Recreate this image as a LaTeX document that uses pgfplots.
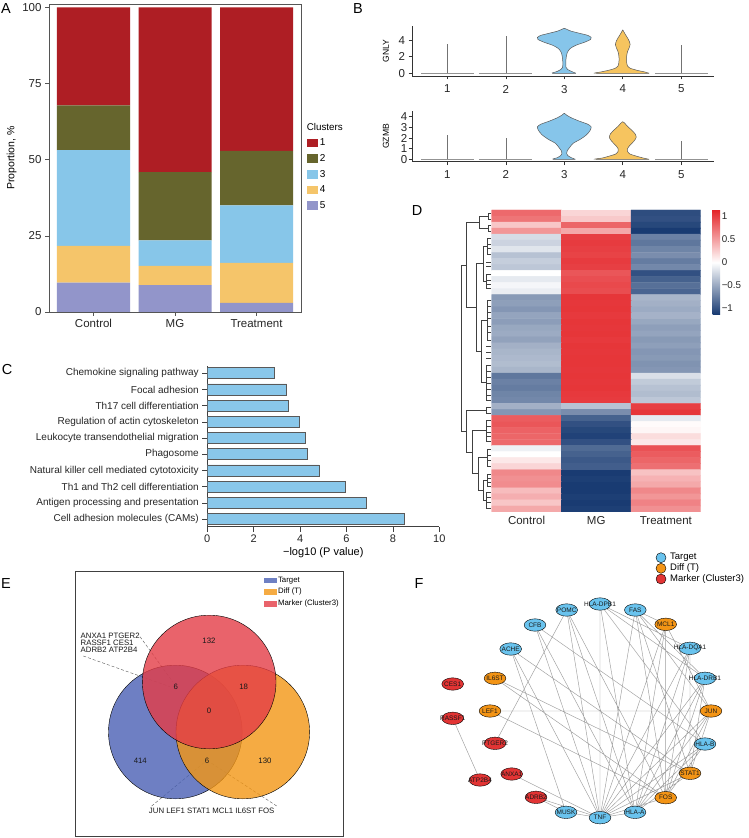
\documentclass[border=0pt]{standalone}
\usepackage{pgfplots}
\pgfplotsset{compat=1.18}
\usepackage{fontspec}
\setmainfont{Liberation Sans}
\definecolor{c1}{RGB}{174,30,36}
\definecolor{c2}{RGB}{102,101,45}
\definecolor{c3}{RGB}{135,198,233}
\definecolor{c4}{RGB}{245,197,106}
\definecolor{c5}{RGB}{146,149,202}
\definecolor{vblue}{RGB}{134,197,234}
\definecolor{vorange}{RGB}{246,196,95}
\definecolor{cbar}{RGB}{137,199,234}
\definecolor{venB}{RGB}{74,96,180}
\definecolor{venO}{RGB}{243,150,20}
\definecolor{venR}{RGB}{228,60,70}
\definecolor{nB}{RGB}{105,195,238}
\definecolor{nO}{RGB}{243,148,21}
\definecolor{nR}{RGB}{226,52,52}
\definecolor{axgray}{RGB}{85,85,85}
\newcommand{\fs}[1]{\fontsize{#1}{#1}\selectfont}
\begin{document}
\begin{tikzpicture}
\fill[white] (0pt,0pt) rectangle (748pt,838pt);
\path[use as bounding box] (0pt,0pt) rectangle (748pt,838pt);

% ---------------- Panel A ----------------
\begin{axis}[
  at={(49pt,526pt)}, anchor=south west, scale only axis,
  width=252pt, height=308pt,
  ybar stacked, bar width=73pt,
  xmin=0.454, xmax=3.546, ymin=0, ymax=101.1,
  xtick={1,2,3}, xticklabels={Control,MG,Treatment},
  ytick={0,25,50,75,100},
  tick align=outside, tick pos=left, major tick length=4pt,
  axis line style={axgray, line width=0.9pt},
  tick style={axgray, line width=0.6pt},
  ticklabel style={font=\fs{11.5}, text=black!85},
  /pgf/number format/assume math mode=true,
  ylabel={Proportion, \%},
  every axis y label/.style={at={(axis description cs:-0.148,0.5)}, rotate=90, anchor=center},
  ylabel style={font=\fs{10.5}},
  clip=false,
  reverse legend,
  legend style={at={(1.0226,0.569)}, anchor=north west, draw=none, fill=none,
    font=\fs{10}, row sep=3.2pt, inner sep=0pt, cells={anchor=west}},
]
\addplot[fill=c5, draw=none, legend image code/.code={\fill[c5] (0pt,-4.3pt) rectangle (11pt,4.3pt);}] coordinates {(1,9.6) (2,8.8) (3,3.0)};
\addlegendentry{5}
\addplot[fill=c4, draw=none, legend image code/.code={\fill[c4] (0pt,-4.3pt) rectangle (11pt,4.3pt);}] coordinates {(1,12.1) (2,6.3) (3,13.1)};
\addlegendentry{4}
\addplot[fill=c3, draw=none, legend image code/.code={\fill[c3] (0pt,-4.3pt) rectangle (11pt,4.3pt);}] coordinates {(1,31.4) (2,8.4) (3,18.9)};
\addlegendentry{3}
\addplot[fill=c2, draw=none, legend image code/.code={\fill[c2] (0pt,-4.3pt) rectangle (11pt,4.3pt);}] coordinates {(1,14.7) (2,22.4) (3,17.9)};
\addlegendentry{2}
\addplot[fill=c1, draw=none, legend image code/.code={\fill[c1] (0pt,-4.3pt) rectangle (11pt,4.3pt);}] coordinates {(1,32.2) (2,54.1) (3,47.1)};
\addlegendentry{1}
\node[anchor=west, font=\fs{9.8}, inner sep=0pt] at (axis description cs:1.0226,0.6016) {Clusters};
\end{axis}

% ---------------- Panel B (GNLY) ----------------
\begin{axis}[
  at={(412pt,762pt)}, anchor=south west, scale only axis, width=302pt, height=50.3pt,
  xmin=0.396, xmax=5.56, ymin=-0.33, ymax=5.77,
  axis lines=left, axis line style={-, black!80, line width=0.6pt},
  xtick={1,2,3,4,5}, ytick={0,2,4},
  tick align=outside, major tick length=3.5pt, tick style={black!80, line width=0.6pt},
  ticklabel style={font=\fs{11.5}, text=black!85},
  xticklabel style={yshift=-2pt},
  /pgf/number format/assume math mode=true,
  ylabel={GNLY},
  every axis y label/.style={at={(axis description cs:-0.086,0.5)}, rotate=90, anchor=center},
  ylabel style={font=\fs{8.6}},
  clip=false,
]
\addplot[gray!85, line width=1.1pt] coordinates {(0.55,0) (1.45,0)};
\addplot[gray!85, line width=1.1pt] coordinates {(1.55,0) (2.45,0)};
\addplot[gray!85, line width=1.1pt] coordinates {(4.55,0) (5.45,0)};
\addplot[black!55, line width=0.5pt] coordinates {(1,0) (1,3.6)};
\addplot[black!55, line width=0.5pt] coordinates {(2,0) (2,4.5)};
\addplot[black!55, line width=0.5pt] coordinates {(5,0) (5,3.4)};
\addplot[fill=vblue, draw=black!65, line width=0.5pt, smooth, tension=0.4] coordinates {
(3.2,0) (3.13,0.2) (3.06,0.45) (3.03,0.7) (3.025,1.2) (3.03,1.8) (3.05,2.5) (3.1,3.0) (3.2,3.4) (3.36,3.8) (3.45,4.1) (3.46,4.35) (3.4,4.6) (3.26,4.85) (3.12,5.1) (3.05,5.3) (3,5.45)
(2.95,5.3) (2.88,5.1) (2.74,4.85) (2.6,4.6) (2.54,4.35) (2.55,4.1) (2.64,3.8) (2.8,3.4) (2.9,3.0) (2.95,2.5) (2.97,1.8) (2.975,1.2) (2.97,0.7) (2.94,0.45) (2.87,0.2) (2.8,0) (3.2,0)};
\addplot[fill=vorange, draw=black!65, line width=0.5pt, smooth, tension=0.4] coordinates {
(4.45,0) (4.38,0.15) (4.25,0.35) (4.13,0.6) (4.08,0.9) (4.065,1.4) (4.065,2.0) (4.08,2.6) (4.11,3.1) (4.125,3.5) (4.11,3.9) (4.08,4.3) (4.045,4.7) (4.02,5.0) (4,5.25)
(3.98,5.0) (3.955,4.7) (3.92,4.3) (3.89,3.9) (3.875,3.5) (3.89,3.1) (3.92,2.6) (3.935,2.0) (3.935,1.4) (3.92,0.9) (3.87,0.6) (3.75,0.35) (3.62,0.15) (3.55,0) (4.45,0)};
\end{axis}

% ---------------- Panel B (GZMB) ----------------
\begin{axis}[
  at={(412pt,676.3pt)}, anchor=south west, scale only axis, width=302pt, height=50.7pt,
  xmin=0.396, xmax=5.56, ymin=-0.225, ymax=4.54,
  axis lines=left, axis line style={-, black!80, line width=0.6pt},
  xtick={1,2,3,4,5}, ytick={0,1,2,3,4},
  tick align=outside, major tick length=3.5pt, tick style={black!80, line width=0.6pt},
  ticklabel style={font=\fs{11.5}, text=black!85},
  xticklabel style={yshift=-2pt},
  yticklabel style={inner sep=1pt},
  /pgf/number format/assume math mode=true,
  ylabel={GZMB},
  every axis y label/.style={at={(axis description cs:-0.086,0.5)}, rotate=90, anchor=center},
  ylabel style={font=\fs{8.6}},
  clip=false,
]
\addplot[gray!85, line width=1.1pt] coordinates {(0.55,0) (1.45,0)};
\addplot[gray!85, line width=1.1pt] coordinates {(1.55,0) (2.45,0)};
\addplot[gray!85, line width=1.1pt] coordinates {(4.55,0) (5.45,0)};
\addplot[black!55, line width=0.5pt] coordinates {(1,0) (1,2.3)};
\addplot[black!55, line width=0.5pt] coordinates {(2,0) (2,2.0)};
\addplot[black!55, line width=0.5pt] coordinates {(5,0) (5,1.7)};
\addplot[fill=vblue, draw=black!65, line width=0.5pt, smooth, tension=0.4] coordinates {
(3.19,0) (3.12,0.15) (3.06,0.35) (3.04,0.55) (3.05,0.8) (3.09,1.1) (3.15,1.5) (3.28,1.9) (3.38,2.3) (3.44,2.7) (3.46,3.05) (3.4,3.3) (3.25,3.6) (3.12,3.9) (3.04,4.15) (3,4.32)
(2.96,4.15) (2.88,3.9) (2.75,3.6) (2.6,3.3) (2.54,3.05) (2.56,2.7) (2.62,2.3) (2.72,1.9) (2.85,1.5) (2.91,1.1) (2.95,0.8) (2.96,0.55) (2.94,0.35) (2.88,0.15) (2.81,0) (3.19,0)};
\addplot[fill=vorange, draw=black!65, line width=0.5pt, smooth, tension=0.4] coordinates {
(4.45,0) (4.35,0.12) (4.23,0.3) (4.12,0.5) (4.08,0.75) (4.08,1.0) (4.12,1.3) (4.19,1.7) (4.23,2.05) (4.21,2.4) (4.14,2.8) (4.08,3.1) (4.04,3.35) (4,3.53)
(3.96,3.35) (3.92,3.1) (3.86,2.8) (3.79,2.4) (3.77,2.05) (3.81,1.7) (3.88,1.3) (3.92,1.0) (3.92,0.75) (3.88,0.5) (3.77,0.3) (3.65,0.12) (3.55,0) (4.45,0)};
\end{axis}

% ---------------- Panel C ----------------
\begin{axis}[
  at={(207.3pt,311.3pt)}, anchor=south west, scale only axis, width=232pt, height=160.7pt,
  xbar, bar width=11pt,
  xmin=0, xmax=10, ymin=0.524, ymax=10.45,
  axis lines=left, axis line style={-, black!75, line width=0.6pt},
  ytick={1,...,10},
  yticklabels={Cell adhesion molecules (CAMs),Antigen processing and presentation,Th1 and Th2 cell differentiation,Natural killer cell mediated cytotoxicity,Phagosome,Leukocyte transendothelial migration,Regulation of actin cytoskeleton,Th17 cell differentiation,Focal adhesion,Chemokine signaling pathway},
  xtick={0,2,4,6,8,10},
  tick align=outside, major tick length=5pt, tick style={black!75, line width=0.6pt},
  xticklabel style={font=\fs{11}, text=black!85},
  yticklabel style={font=\fs{10}, text=black!85},
  /pgf/number format/assume math mode=true,
  xlabel={−log10 (P value)}, xlabel style={font=\fs{11}, yshift=2pt},
]
\addplot[fill=cbar, draw=black!65, line width=0.6pt] coordinates {(8.49,1) (6.85,2) (5.95,3) (4.81,4) (4.32,5) (4.24,6) (3.97,7) (3.49,8) (3.42,9) (2.87,10)};
\end{axis}

% ---------------- Panel D heatmap ----------------
\begin{axis}[
  at={(491.7pt,326pt)}, anchor=south west, scale only axis, width=209pt, height=302pt,
  xmin=-0.5, xmax=2.5, ymin=-0.5, ymax=49.5,
  axis line style={draw=none},
  xtick={0,1,2}, xticklabels={Control,MG,Treatment}, ytick=\empty,
  major tick length=0pt,
  xticklabel style={font=\fs{11.5}, text=black!85, yshift=-1pt},
  colormap={hm}{rgb255(0cm)=(21,56,112); rgb255(1cm)=(255,255,255); rgb255(2cm)=(228,36,40)},
  point meta min=-1.14, point meta max=1.14,
  colorbar,
  colorbar style={at={(parent axis.north east)}, anchor=north west, xshift=3.3pt,
    scale only axis, width=7.7pt, height=105pt,
    ytick={-1,-0.5,0,0.5,1}, yticklabels={−1,−0.5,0,0.5,1},
    axis line style={draw=none}, major tick length=0pt,
    yticklabel style={font=\fs{9.8}, text=black!85, xshift=-2pt}},
]
\addplot[matrix plot*, mesh/cols=3, point meta=explicit] coordinates {
(0,49)[0.78] (1,49)[0.22] (2,49)[-1.02]
(0,48)[0.72] (1,48)[0.28] (2,48)[-1.0]
(0,47)[0.3] (1,47)[0.8] (2,47)[-1.05]
(0,46)[0.55] (1,46)[0.45] (2,46)[-1.12]
(0,45)[-0.2] (1,45)[1.0] (2,45)[-0.72]
(0,44)[-0.25] (1,44)[1.02] (2,44)[-0.78]
(0,43)[-0.15] (1,43)[1.0] (2,43)[-0.7]
(0,42)[-0.35] (1,42)[0.98] (2,42)[-0.65]
(0,41)[-0.28] (1,41)[1.02] (2,41)[-0.75]
(0,40)[-0.32] (1,40)[1.0] (2,40)[-0.68]
(0,39)[0.0] (1,39)[0.88] (2,39)[-1.0]
(0,38)[-0.12] (1,38)[0.92] (2,38)[-0.9]
(0,37)[-0.05] (1,37)[0.95] (2,37)[-0.82]
(0,36)[-0.1] (1,36)[0.93] (2,36)[-0.88]
(0,35)[-0.58] (1,35)[1.05] (2,35)[-0.42]
(0,34)[-0.55] (1,34)[1.04] (2,34)[-0.45]
(0,33)[-0.6] (1,33)[1.05] (2,33)[-0.48]
(0,32)[-0.52] (1,32)[1.03] (2,32)[-0.44]
(0,31)[-0.56] (1,31)[1.05] (2,31)[-0.5]
(0,30)[-0.5] (1,30)[1.04] (2,30)[-0.55]
(0,29)[-0.48] (1,29)[1.05] (2,29)[-0.52]
(0,28)[-0.53] (1,28)[1.03] (2,28)[-0.58]
(0,27)[-0.45] (1,27)[1.05] (2,27)[-0.55]
(0,26)[-0.42] (1,26)[1.04] (2,26)[-0.6]
(0,25)[-0.4] (1,25)[1.05] (2,25)[-0.58]
(0,24)[-0.38] (1,24)[1.05] (2,24)[-0.62]
(0,23)[-0.42] (1,23)[1.04] (2,23)[-0.6]
(0,22)[-0.78] (1,22)[1.05] (2,22)[-0.18]
(0,21)[-0.72] (1,21)[1.04] (2,21)[-0.3]
(0,20)[-0.75] (1,20)[1.05] (2,20)[-0.35]
(0,19)[-0.7] (1,19)[1.03] (2,19)[-0.38]
(0,18)[-0.68] (1,18)[1.02] (2,18)[-0.32]
(0,17)[-0.45] (1,17)[-0.35] (2,17)[1.0]
(0,16)[-0.6] (1,16)[-0.65] (2,16)[1.05]
(0,15)[0.85] (1,15)[-0.9] (2,15)[-0.12]
(0,14)[0.88] (1,14)[-1.0] (2,14)[0.02]
(0,13)[0.82] (1,13)[-1.05] (2,13)[0.05]
(0,12)[0.8] (1,12)[-1.08] (2,12)[0.18]
(0,11)[0.78] (1,11)[-1.0] (2,11)[0.12]
(0,10)[-0.08] (1,10)[-0.85] (2,10)[0.9]
(0,9)[0.0] (1,9)[-0.9] (2,9)[0.85]
(0,8)[0.12] (1,8)[-0.95] (2,8)[0.8]
(0,7)[0.22] (1,7)[-0.92] (2,7)[0.75]
(0,6)[0.62] (1,6)[-1.12] (2,6)[0.32]
(0,5)[0.58] (1,5)[-1.1] (2,5)[0.4]
(0,4)[0.6] (1,4)[-1.12] (2,4)[0.45]
(0,3)[0.35] (1,3)[-1.12] (2,3)[0.62]
(0,2)[0.42] (1,2)[-1.1] (2,2)[0.55]
(0,1)[0.3] (1,1)[-1.12] (2,1)[0.65]
(0,0)[0.45] (1,0)[-1.1] (2,0)[0.58]
};
\end{axis}

% ---------------- Panel E Venn ----------------
\begin{axis}[
  at={(75pt,2pt)}, anchor=south west, scale only axis, width=268.3pt, height=265pt,
  xmin=75, xmax=343.3, ymin=571, ymax=836, y dir=reverse,
  xtick=\empty, ytick=\empty, axis line style={black!75, line width=0.7pt},
  clip=false,
  legend style={at={(0.995,0.99)}, anchor=north east, draw=none, fill=none,
    font=\fs{7.8}, row sep=0.5pt, inner sep=1pt, cells={anchor=west}},
]
\addplot[forget plot, only marks, mark=*, mark size=66.8pt, mark options={fill=venB, draw=none, fill opacity=0.8}] coordinates {(175.3,732)};
\addplot[forget plot, only marks, mark=*, mark size=66.8pt, mark options={fill=venO, draw=none, fill opacity=0.8}] coordinates {(242.8,732)};
\addplot[forget plot, only marks, mark=*, mark size=66.8pt, mark options={fill=venR, draw=none, fill opacity=0.8}] coordinates {(209.2,682)};
\addplot[forget plot, black!65, densely dashed, line width=0.4pt] coordinates {(140,636.7) (172.7,681.7)};
\addplot[forget plot, black!65, densely dashed, line width=0.4pt] coordinates {(83.3,656) (170,686.7)};
\addplot[forget plot, black!65, densely dashed, line width=0.4pt] coordinates {(151.7,806) (204,762.7)};
\addplot[forget plot, black!65, densely dashed, line width=0.4pt] coordinates {(276.7,806) (210.7,762.7)};
\addlegendimage{legend image code/.code={\fill[venB!80!white] (0pt,-2.4pt) rectangle (12pt,2.4pt);}}
\addlegendentry{Target}
\addlegendimage{legend image code/.code={\fill[venO!80!white] (0pt,-2.4pt) rectangle (12pt,2.4pt);}}
\addlegendentry{Diff (T)}
\addlegendimage{legend image code/.code={\fill[venR!80!white] (0pt,-2.4pt) rectangle (12pt,2.4pt);}}
\addlegendentry{Marker (Cluster3)}
\end{axis}

% ---------------- Overlay: dendrogram, network ----------------
\begin{axis}[
  at={(0pt,0pt)}, anchor=south west, scale only axis, width=748pt, height=838pt,
  xmin=0, xmax=748, ymin=0, ymax=838, y dir=reverse, hide axis, clip=false,
  unbounded coords=jump,
]
% dendrogram
\addplot[black!75, line width=0.55pt] coordinates {
(491,213)(488,213)(488,219)(491,219) (nan,nan)
(491,225)(488,225)(488,231)(491,231) (nan,nan)
(488,216)(479,216)(479,228)(488,228) (nan,nan)
(491,238)(487,238)(487,254)(491,254) (nan,nan)
(491,274)(486,274)(486,288)(491,288) (nan,nan)
(487,246)(483,246)(483,281)(486,281) (nan,nan)
(491,300)(487,300)(487,340)(491,340) (nan,nan)
(491,365)(486,365)(486,400)(491,400) (nan,nan)
(487,320)(481,320)(481,382)(486,382) (nan,nan)
(483,263)(476,263)(476,351)(481,351) (nan,nan)
(479,222)(466.7,222)(466.7,307)(476,307) (nan,nan)
(491,407)(486,407)(486,413)(491,413) (nan,nan)
(491,420)(486,420)(486,441)(491,441) (nan,nan)
(491,449)(487,449)(487,466)(491,466) (nan,nan)
(491,474)(487,474)(487,486)(491,486) (nan,nan)
(491,492)(486,492)(486,508)(491,508) (nan,nan)
(487,480)(483,480)(483,500)(486,500) (nan,nan)
(487,457)(478,457)(478,490)(483,490) (nan,nan)
(486,430)(472,430)(472,473)(478,473) (nan,nan)
(486,410)(466,410)(466,452)(472,452) (nan,nan)
(466.7,265)(461,265)(461,431)(466,431)
};
\addplot[black!75, line width=0.45pt] coordinates {
(487,244)(491,244) (nan,nan) (487,248)(491,248) (nan,nan) (486,262)(491,262) (nan,nan)
(486,266)(491,266) (nan,nan) (486,280)(491,280) (nan,nan) (486,284)(491,284) (nan,nan)
(487,306)(491,306) (nan,nan) (487,312)(491,312) (nan,nan) (487,318)(491,318) (nan,nan)
(487,326)(491,326) (nan,nan) (487,332)(491,332) (nan,nan) (486,346)(491,346) (nan,nan)
(486,352)(491,352) (nan,nan) (486,358)(491,358) (nan,nan) (486,371)(491,371) (nan,nan)
(486,377)(491,377) (nan,nan) (486,383)(491,383) (nan,nan) (486,389)(491,389) (nan,nan)
(486,395)(491,395) (nan,nan) (486,426)(491,426) (nan,nan) (486,432)(491,432) (nan,nan)
(486,436)(491,436) (nan,nan) (487,455)(491,455) (nan,nan) (487,460)(491,460) (nan,nan)
(487,478)(491,478) (nan,nan) (487,482)(491,482) (nan,nan) (486,497)(491,497) (nan,nan)
(486,502)(491,502)
};
% network edges
\addplot[black!38, line width=0.45pt] coordinates {
(452.7,718.3)(480,780) (nan,nan)
(495,743.3)(566.7,610) (nan,nan)
(511.7,774)(600,817.7) (nan,nan)
(536,797.3)(600,817.7) (nan,nan)
(536,797.3)(566,812.3) (nan,nan)
(490,711)(711,711) (nan,nan)
(490,711)(665.7,797.7) (nan,nan)
(495,678.3)(690,773.3) (nan,nan)
(495,678.3)(665.7,797.7) (nan,nan)
(510.7,649)(566,812.3) (nan,nan)
(510.7,649)(600,817.7) (nan,nan)
(510.7,649)(690,773.3) (nan,nan)
(535,625)(600,817.7) (nan,nan)
(535,625)(635,812.3) (nan,nan)
(535,625)(705,744) (nan,nan)
(566.7,610)(600,817.7) (nan,nan)
(566.7,610)(635,812.3) (nan,nan)
(566.7,610)(665.7,797.7) (nan,nan)
(600,604)(600,817.7) (nan,nan)
(600,604)(635,812.3) (nan,nan)
(600,604)(690,648.3) (nan,nan)
(600,604)(705,678.3) (nan,nan)
(600,604)(705,744) (nan,nan)
(635.3,610)(665.7,624.3) (nan,nan)
(635.3,610)(600,817.7) (nan,nan)
(635.3,610)(711,711) (nan,nan)
(635.3,610)(690,773.3) (nan,nan)
(635.3,610)(665.7,797.7) (nan,nan)
(635.3,610)(705,678.3) (nan,nan)
(665.7,624.3)(665.7,797.7) (nan,nan)
(665.7,624.3)(600,817.7) (nan,nan)
(665.7,624.3)(635,812.3) (nan,nan)
(665.7,624.3)(711,711) (nan,nan)
(690,648.3)(600,817.7) (nan,nan)
(690,648.3)(635,812.3) (nan,nan)
(690,648.3)(690,773.3) (nan,nan)
(690,648.3)(665.7,797.7) (nan,nan)
(705,678.3)(600,817.7) (nan,nan)
(705,678.3)(635,812.3) (nan,nan)
(705,678.3)(665.7,797.7) (nan,nan)
(705,678.3)(690,773.3) (nan,nan)
(711,711)(600,817.7) (nan,nan)
(711,711)(635,812.3) (nan,nan)
(711,711)(665.7,797.7) (nan,nan)
(711,711)(690,773.3) (nan,nan)
(705,744)(600,817.7) (nan,nan)
(705,744)(635,812.3) (nan,nan)
(705,744)(665.7,797.7) (nan,nan)
(690,773.3)(600,817.7) (nan,nan)
(690,773.3)(635,812.3) (nan,nan)
(665.7,797.7)(600,817.7) (nan,nan)
(635,812.3)(600,817.7) (nan,nan)
(566,812.3)(600,817.7)
};
% network nodes
\addplot[only marks, mark=*, mark size=6.2pt, mark options={fill=nB, draw=none, xscale=1.75}] coordinates {
(566.7,610) (600,604) (635.3,610) (690,648.3) (705,678.3) (705,744) (635,812.3) (600,817.7) (566,812.3) (535,625) (510.7,649)};
\addplot[only marks, mark=*, mark size=6.2pt, mark options={fill=nO, draw=none, xscale=1.75}] coordinates {
(665.7,624.3) (711,711) (690,773.3) (665.7,797.7) (495,678.3) (490,711)};
\addplot[only marks, mark=*, mark size=6.2pt, mark options={fill=nR, draw=none, xscale=1.75}] coordinates {
(452.7,684) (452.7,718.3) (495,743.3) (511.7,774) (480,780) (536,797.3)};
% F legend marks
\addplot[only marks, mark=*, mark size=5pt, mark options={fill=nB, draw=none}] coordinates {(661,557.7)};
\addplot[only marks, mark=*, mark size=5pt, mark options={fill=nO, draw=none}] coordinates {(661,568.3)};
\addplot[only marks, mark=*, mark size=5pt, mark options={fill=nR, draw=none}] coordinates {(661,579)};
\end{axis}

% ---------------- Text overlay ----------------
\begin{axis}[
  at={(0pt,0pt)}, anchor=south west, scale only axis, width=748pt, height=838pt,
  xmin=0, xmax=748, ymin=0, ymax=838, y dir=reverse, hide axis, clip=false,
]
\addplot[draw=none, forget plot] coordinates {(0,0) (748,838)};
% Venn texts
\begin{scope}[every node/.style={font=\fs{7.8}, text=black!90}]
\node at (axis cs:209,641) {132};
\node at (axis cs:175.7,687.3) {6};
\node at (axis cs:243.7,687.3) {18};
\node at (axis cs:209,711) {0};
\node at (axis cs:140.3,760.7) {414};
\node at (axis cs:207,760.7) {6};
\node at (axis cs:265,760.7) {130};
\node[anchor=west, align=left, inner sep=0pt] at (axis cs:80.5,642.8) {ANXA1 PTGER2\\[-0.6pt]RASSF1 CES1\\[-0.6pt]ADRB2 ATP2B4};
\node at (axis cs:211.7,811) {JUN LEF1 STAT1 MCL1 IL6ST FOS};
\end{scope}
% network labels
\begin{scope}[every node/.style={font=\fs{6.5}, inner sep=0pt, text=black!90}]
\node at (axis cs:566.7,610) {POMC};
\node at (axis cs:600,604) {HLA-DPB1};
\node at (axis cs:635.3,610) {FAS};
\node at (axis cs:665.7,624.3) {MCL1};
\node at (axis cs:690,648.3) {HLA-DQA1};
\node at (axis cs:705,678.3) {HLA-DRB1};
\node at (axis cs:711,711) {JUN};
\node at (axis cs:705,744) {HLA-B};
\node at (axis cs:690,773.3) {STAT1};
\node at (axis cs:665.7,797.7) {FOS};
\node at (axis cs:635,812.3) {HLA-A};
\node at (axis cs:600,817.7) {TNF};
\node at (axis cs:566,812.3) {MUSK};
\node at (axis cs:535,625) {CFB};
\node at (axis cs:510.7,649) {ACHE};
\node at (axis cs:495,678.3) {IL6ST};
\node at (axis cs:490,711) {LEF1};
\node at (axis cs:452.7,684) {CES1};
\node at (axis cs:452.7,718.3) {RASSF1};
\node at (axis cs:495,743.3) {PTGER2};
\node at (axis cs:511.7,774) {ANXA1};
\node at (axis cs:480,780) {ATP2B4};
\node at (axis cs:536,797.3) {ADRB2};
\end{scope}
\node[anchor=west, font=\fs{9.5}, inner sep=0pt] at (axis cs:670,557.7) {Target};
\node[anchor=west, font=\fs{9.5}, inner sep=0pt] at (axis cs:670,568.3) {Diff (T)};
\node[anchor=west, font=\fs{9.5}, inner sep=0pt] at (axis cs:670,579) {Marker (Cluster3)};
% panel letters
\begin{scope}[every node/.style={font=\fs{14.5}, inner sep=0pt}]
\node at (axis cs:6,9) {A};
\node at (axis cs:358,9) {B};
\node at (axis cs:7,370) {C};
\node at (axis cs:417,211) {D};
\node at (axis cs:6,584) {E};
\node at (axis cs:419,584) {F};
\end{scope}
\end{axis}
\end{tikzpicture}
\end{document}
